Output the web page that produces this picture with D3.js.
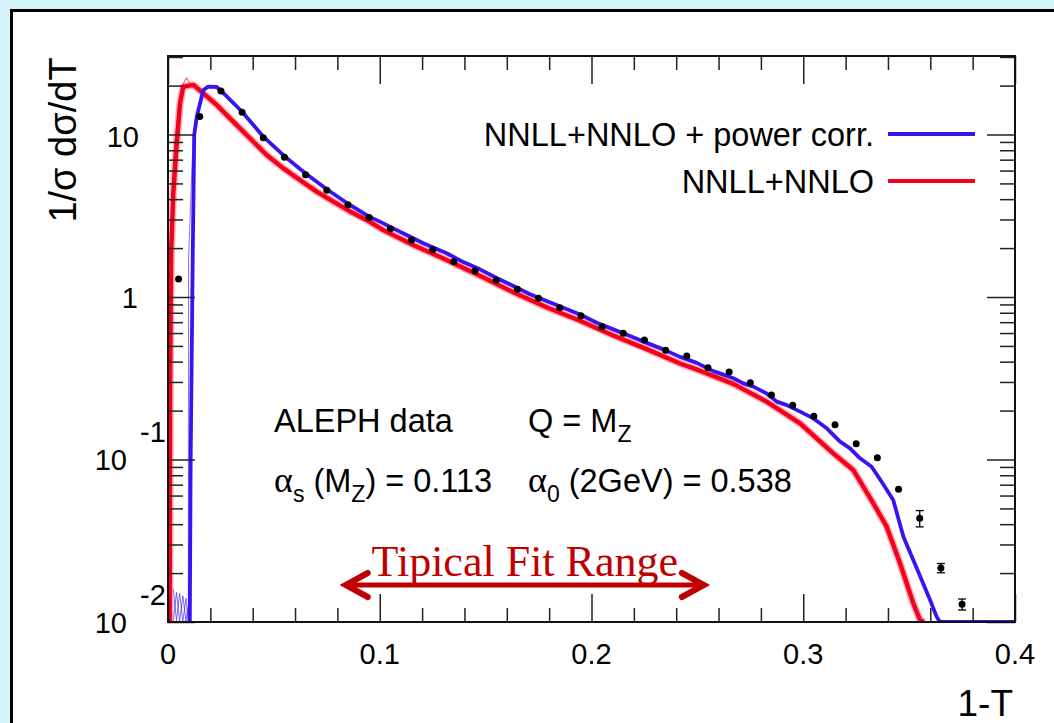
<!DOCTYPE html>
<html><head><meta charset="utf-8">
<script src="https://cdn.jsdelivr.net/npm/d3@7"></script>
<style>
html,body{margin:0;padding:0;background:#d5f4f9;}
svg{display:block;}
</style></head><body>
<svg id="chart" width="1054" height="723"></svg>
<script>
// ---------- data ----------
const dataX = [0.005,0.015,0.025,0.035,0.045,0.055,0.065,0.075,0.085,0.095,
               0.105,0.115,0.125,0.135,0.145,0.155,0.165,0.175,0.185,0.195,
               0.205,0.215,0.225,0.235,0.245,0.255,0.265,0.275,0.285,0.295,
               0.305,0.315,0.325,0.335,0.345,0.355,0.365,0.375];
const dataY = [1.29,12.9,18.5,13.7,9.55,7.24,5.66,4.54,3.70,3.08,
               2.63,2.24,1.95,1.65,1.45,1.27,1.115,0.982,0.859,0.767,
               0.656,0.598,0.544,0.470,0.433,0.367,0.345,0.297,0.249,0.216,
               0.1845,0.1637,0.125,0.1026,0.0656,0.0435,0.0215,0.01285];
const dataErr = [0,0,0,0,0,0,0,0,0,0,
                 0,0,0,0,0,0,0,0,0,0,
                 0,0,0,0,0,0,0,0,0,0,
                 0,0,0,0,0,0.005,0.0014,0.001];

// NNLL+NNLO + power corrections (blue)
const blueX = [0.0103,0.0107,0.0117,0.0124,0.0136,0.0167,0.0190,0.0230,0.0250,0.0350,
               0.0450,0.0550,0.0650,0.0750,0.0850,0.0950,0.1001,0.1080,0.1127,0.1206,
               0.1316,0.1395,0.1473,0.1552,0.1631,0.1710,0.1788,0.1867,0.1946,0.2025,
               0.2103,0.2182,0.2261,0.2339,0.2418,0.2497,0.2575,0.2623,0.2670,0.2717,
               0.2764,0.2827,0.2875,0.2922,0.2985,0.3048,0.3111,0.3174,0.3221,0.3268,
               0.3323,0.3370,0.3425,0.3473,0.3536,0.3599,0.3630,0.3646,0.4000];
const blueY = [0.01,0.1,1.9,10,12.9,18.8,19.7,19.6,18.6,13.8,
               9.7,7.35,5.75,4.6,3.75,3.12,2.91,2.58,2.41,2.14,
               1.86,1.64,1.48,1.31,1.17,1.04,0.945,0.86,0.78,0.695,
               0.632,0.575,0.522,0.476,0.428,0.393,0.350,0.333,0.316,0.294,
               0.281,0.255,0.227,0.216,0.197,0.179,0.1555,0.1288,0.1172,0.1017,
               0.0903,0.0730,0.0563,0.0335,0.0214,0.01365,0.01076,0.0100,0.0100];
// thin band edge of blue curve near threshold
const blueThinX = [0.0096,0.0097,0.0119];
const blueThinY = [0.01,1.7,10];

// NNLL+NNLO (red)
const redX = [0.0008,0.0010,0.0015,0.0025,0.0041,0.0057,0.0072,0.0120,0.0167,0.0230,
              0.0308,0.0387,0.0466,0.0545,0.0623,0.0702,0.0781,0.0860,0.0938,0.1017,
              0.1158,0.1316,0.1473,0.1631,0.1788,0.1946,0.2103,0.2261,0.2418,0.2512,
              0.2670,0.2827,0.2985,0.3142,0.3236,0.3331,0.3394,0.3457,0.3520,0.3551,
              0.3570];
const redY = [0.01,0.3,1.9,4.35,8.83,15.6,19.7,20.2,17.9,15.2,
              12.0,9.48,7.48,6.19,5.25,4.45,3.86,3.36,2.98,2.58,
              2.09,1.69,1.35,1.07,0.865,0.715,0.58,0.478,0.39,0.352,
              0.292,0.227,0.167,0.109,0.0862,0.0537,0.0386,0.0230,0.0130,0.0103,
              0.0100];
// thin band variant of red curve around the peak
const redPeakX = [0.0005,0.0012,0.0030,0.0050,0.0075,0.0088,0.0110,0.0150];
const redPeakY = [0.01,1.0,8.0,15.0,21.0,22.3,20.0,18.3];

// hatched band pieces near threshold
const redHatch = {x0:0.0000, x1:0.0019, yLo:0.01, yHi:0.6};
const blueHatchX = [0.0025,0.0040,0.0055,0.0070,0.0085,0.0095];
const blueHatchA = [0.016,0.0102,0.0150,0.0101,0.0140,0.0100];
const blueHatchB = [0.0101,0.0152,0.0101,0.0145,0.0101,0.0125];

const xMajorTicks = [0,0.1,0.2,0.3,0.4];
const xTickLabels = ["0","0.1","0.2","0.3","0.4"];
const yMajorTicks = [0.01,0.1,1,10];
const legendLabels = ["NNLL+NNLO + power corr.","NNLL+NNLO"];
const fitRange = [0.083,0.254];
const fitLabel = "Tipical Fit Range";
const xTitle = "1-T";
const yTitle = "1/σ dσ/dT";

// ---------- layout ----------
const BLUE = "#3a14f0", RED = "#f2001c", DARKRED = "#c00000";
const svg = d3.select("#chart");
const L = 168, R = 1015, T = 56, B = 622;
const yMax = Math.pow(10, (B - T) / 162.5 - 2);
const x = d3.scaleLinear().domain([0, 0.4]).range([L, R]);
const y = d3.scaleLog().domain([0.01, yMax]).range([B, T]);

// page panel
svg.append("rect").attr("x", 0).attr("y", 0).attr("width", 1054).attr("height", 723).attr("fill", "#d5f4f9");
svg.append("rect").attr("x", 11.5).attr("y", 10.5).attr("width", 1100).attr("height", 800)
   .attr("fill", "#ffffff").attr("stroke", "#000").attr("stroke-width", 3);

const defs = svg.append("defs");
defs.append("clipPath").attr("id", "plotclip").append("rect")
   .attr("x", L).attr("y", T).attr("width", R - L).attr("height", B - T);
const pat = defs.append("pattern").attr("id", "redhatch").attr("patternUnits", "userSpaceOnUse")
   .attr("width", 5).attr("height", 10);
pat.append("path").attr("d", "M0,0 L5,5 L0,10").attr("stroke", RED).attr("stroke-width", 0.8).attr("fill", "none").attr("opacity", 0.8);
pat.append("path").attr("d", "M5,0 L0,5 L5,10").attr("stroke", RED).attr("stroke-width", 0.8).attr("fill", "none").attr("opacity", 0.8);

const plot = svg.append("g").attr("clip-path", "url(#plotclip)");

// ---------- axes (ticks inward on all four sides) ----------
const xMinor = d3.range(0, 0.4001, 0.02).filter(v => Math.abs(v * 10 - Math.round(v * 10)) > 1e-6);
const yMinor = [];
[0.01, 0.1, 1, 10].forEach(d => { for (let k = 2; k <= 9; k++) { const v = d * k; if (v < yMax) yMinor.push(v); } });

function styleAxis(g) {
  g.select(".domain").remove();
  g.selectAll(".tick line").attr("stroke", "#222").attr("stroke-width", 1.5);
  g.selectAll(".tick text").remove();
}
svg.append("g").attr("transform", `translate(0,${B})`).call(d3.axisTop(x).tickValues(xMajorTicks).tickSize(28)).call(styleAxis);
svg.append("g").attr("transform", `translate(0,${B})`).call(d3.axisTop(x).tickValues(xMinor).tickSize(14)).call(styleAxis);
svg.append("g").attr("transform", `translate(0,${T})`).call(d3.axisBottom(x).tickValues(xMajorTicks).tickSize(28)).call(styleAxis);
svg.append("g").attr("transform", `translate(0,${T})`).call(d3.axisBottom(x).tickValues(xMinor).tickSize(14)).call(styleAxis);
svg.append("g").attr("transform", `translate(${L},0)`).call(d3.axisRight(y).tickValues(yMajorTicks).tickSize(27)).call(styleAxis);
svg.append("g").attr("transform", `translate(${L},0)`).call(d3.axisRight(y).tickValues(yMinor).tickSize(15)).call(styleAxis);
svg.append("g").attr("transform", `translate(${R},0)`).call(d3.axisLeft(y).tickValues(yMajorTicks).tickSize(28)).call(styleAxis);
svg.append("g").attr("transform", `translate(${R},0)`).call(d3.axisLeft(y).tickValues(yMinor).tickSize(15)).call(styleAxis);

// ---------- curves ----------
const lineGen = d3.line().x(d => x(d[0])).y(d => y(d[1]));
const zip = (a, b) => a.map((v, i) => [v, b[i]]);

// red hatched band near threshold
plot.append("rect")
   .attr("x", x(redHatch.x0)).attr("y", y(redHatch.yHi))
   .attr("width", x(redHatch.x1) - x(redHatch.x0)).attr("height", y(redHatch.yLo) - y(redHatch.yHi))
   .attr("fill", "url(#redhatch)");
// blue hatch
plot.append("path").datum(zip(blueHatchX, blueHatchA)).attr("d", lineGen)
   .attr("fill", "none").attr("stroke", BLUE).attr("stroke-width", 0.9).attr("opacity", 0.7);
plot.append("path").datum(zip(blueHatchX, blueHatchB)).attr("d", lineGen)
   .attr("fill", "none").attr("stroke", BLUE).attr("stroke-width", 0.9).attr("opacity", 0.7);

// red band (light) + red line
plot.append("path").datum(zip(redX, redY)).attr("d", lineGen)
   .attr("fill", "none").attr("stroke", "#ff5060").attr("stroke-width", 7.5).attr("opacity", 0.45)
   .attr("stroke-linejoin", "round");
plot.append("path").datum(zip(redPeakX, redPeakY)).attr("d", lineGen)
   .attr("fill", "none").attr("stroke", "#ff4050").attr("stroke-width", 1.2).attr("opacity", 0.8);
plot.append("path").datum(zip(redX, redY)).attr("d", lineGen)
   .attr("fill", "none").attr("stroke", RED).attr("stroke-width", 4.4).attr("stroke-linejoin", "round");

// blue thin + blue line
plot.append("path").datum(zip(blueThinX, blueThinY)).attr("d", lineGen)
   .attr("fill", "none").attr("stroke", BLUE).attr("stroke-width", 1).attr("opacity", 0.6);
plot.append("path").datum(zip(blueX, blueY)).attr("d", lineGen)
   .attr("fill", "none").attr("stroke", BLUE).attr("stroke-width", 3.8).attr("stroke-linejoin", "round");

// ---------- data points ----------
const pts = dataX.map((v, i) => ({x: v, y: dataY[i], e: dataErr[i]}));
const eb = plot.append("g").attr("stroke", "#000").attr("stroke-width", 1.3);
pts.filter(d => d.e > 0).forEach(d => {
  eb.append("line").attr("x1", x(d.x)).attr("x2", x(d.x)).attr("y1", y(d.y - d.e)).attr("y2", y(d.y + d.e));
  eb.append("line").attr("x1", x(d.x) - 4).attr("x2", x(d.x) + 4).attr("y1", y(d.y - d.e)).attr("y2", y(d.y - d.e));
  eb.append("line").attr("x1", x(d.x) - 4).attr("x2", x(d.x) + 4).attr("y1", y(d.y + d.e)).attr("y2", y(d.y + d.e));
});
plot.append("g").selectAll("circle").data(pts).join("circle")
   .attr("cx", d => x(d.x)).attr("cy", d => y(d.y)).attr("r", 3.5).attr("fill", "#000");

// frame
svg.append("rect").attr("x", L).attr("y", T).attr("width", R - L).attr("height", B - T)
   .attr("fill", "none").attr("stroke", "#111").attr("stroke-width", 2);

// ---------- labels ----------
const FONT = "'Liberation Sans', Arial, Helvetica, sans-serif";
const lbl = svg.append("g").attr("font-family", FONT).attr("fill", "#000");
xMajorTicks.forEach((v, i) => {
  lbl.append("text").attr("x", x(v)).attr("y", 664).attr("text-anchor", "middle")
     .attr("font-size", 29).text(xTickLabels[i]);
});
// y tick labels (ROOT style)
lbl.append("text").attr("x", 139).attr("y", y(10) + 12).attr("text-anchor", "end").attr("font-size", 29).text("10");
lbl.append("text").attr("x", 138).attr("y", y(1) + 11).attr("text-anchor", "end").attr("font-size", 29).text("1");
[[0.1, "-1"], [0.01, "-2"]].forEach(([v, ex]) => {
  lbl.append("text").attr("x", 127).attr("y", y(v) + 10.5).attr("text-anchor", "end").attr("font-size", 29).text("10");
  lbl.append("text").attr("x", 140).attr("y", y(v) - 17.5).attr("text-anchor", "start").attr("font-size", 29).text(ex);
});
// axis titles
lbl.append("text").attr("x", 1013).attr("y", 716).attr("text-anchor", "end").attr("font-size", 37).text(xTitle);
lbl.append("text").attr("transform", "translate(76,140) rotate(-90)").attr("text-anchor", "middle")
   .attr("font-size", 38).text(yTitle);

// legend
const legColors = [BLUE, RED];
const legY = [134, 181];
legendLabels.forEach((t, i) => {
  lbl.append("text").attr("x", 874).attr("y", legY[i] + 11.5).attr("text-anchor", "end").attr("font-size", 32.5).text(t);
  svg.append("line").attr("x1", 888).attr("x2", 975).attr("y1", legY[i]).attr("y2", legY[i])
     .attr("stroke", legColors[i]).attr("stroke-width", 4);
});

// annotations
const ALPHA = "'Liberation Serif', 'DejaVu Serif', serif";
lbl.append("text").attr("x", 274).attr("y", 432).attr("font-size", 32.5).text("ALEPH data");
const q = lbl.append("text").attr("x", 528).attr("y", 432).attr("font-size", 32.5);
q.append("tspan").text("Q = M");
q.append("tspan").attr("font-size", 23).attr("dy", 10).text("Z");
const a1 = lbl.append("text").attr("x", 274).attr("y", 492).attr("font-size", 32.5);
a1.append("tspan").attr("font-family", ALPHA).attr("font-size", 36).text("α");
a1.append("tspan").attr("font-size", 23).attr("dy", 10).text("s");
a1.append("tspan").attr("dy", -10).text(" (M");
a1.append("tspan").attr("font-size", 23).attr("dy", 10).text("Z");
a1.append("tspan").attr("dy", -10).text(") = 0.113");
const a2 = lbl.append("text").attr("x", 528).attr("y", 492).attr("font-size", 32.5);
a2.append("tspan").attr("font-family", ALPHA).attr("font-size", 36).text("α");
a2.append("tspan").attr("font-size", 23).attr("dy", 10).text("0");
a2.append("tspan").attr("dy", -10).text(" (2GeV) = 0.538");

// fit range arrow
const ax0 = x(fitRange[0]), ax1 = x(fitRange[1]), ay = 585;
const arr = svg.append("g").attr("stroke", DARKRED).attr("fill", "none").attr("stroke-linecap", "round");
arr.append("line").attr("x1", ax0 + 4).attr("x2", ax1 - 4).attr("y1", ay).attr("y2", ay).attr("stroke-width", 5);
arr.append("path").attr("d", `M${ax0 + 24},${ay - 12} L${ax0 + 2},${ay} L${ax0 + 24},${ay + 12}`)
   .attr("stroke-width", 6).attr("stroke-linejoin", "miter");
arr.append("path").attr("d", `M${ax1 - 24},${ay - 12} L${ax1 - 2},${ay} L${ax1 - 24},${ay + 12}`)
   .attr("stroke-width", 6).attr("stroke-linejoin", "miter");
svg.append("text").attr("x", (ax0 + ax1) / 2).attr("y", 576).attr("text-anchor", "middle")
   .attr("font-family", "'Liberation Serif', 'DejaVu Serif', serif").attr("font-size", 44)
   .attr("fill", DARKRED).text(fitLabel);
</script>
</body></html>
